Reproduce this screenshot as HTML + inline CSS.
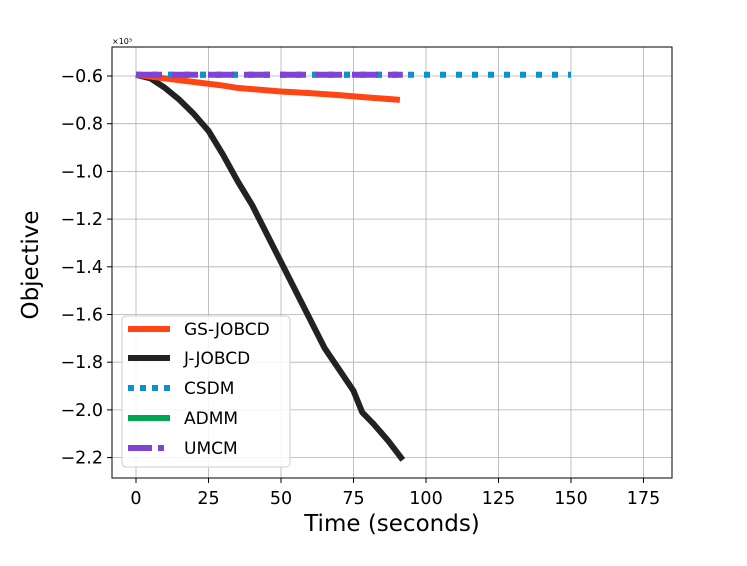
<!DOCTYPE html>
<html><head><meta charset="utf-8"><style>
body{margin:0;background:#fff}
svg text{font-family:"DejaVu Sans","Liberation Sans",sans-serif;fill:#000}
</style></head><body>
<svg id="c" width="747" height="561" viewBox="0 0 747 561"></svg>
<script>
const xTicks=[0,25,50,75,100,125,150,175];
const yTicks=[-0.6,-0.8,-1.0,-1.2,-1.4,-1.6,-1.8,-2.0,-2.2];
const yTickLabels=["−0.6","−0.8","−1.0","−1.2","−1.4","−1.6","−1.8","−2.0","−2.2"];
const gsT=[0,10,20,30,35,40,50,60,70,80,91];
const gsV=[-0.595,-0.61,-0.625,-0.64,-0.65,-0.655,-0.665,-0.672,-0.68,-0.69,-0.70];
const jT=[0,5,10,15,20,25,30,35,40,45,50,55,60,65,70,75,78,82,87,92];
const jV=[-0.595,-0.61,-0.65,-0.70,-0.76,-0.83,-0.93,-1.04,-1.14,-1.26,-1.38,-1.50,-1.62,-1.74,-1.83,-1.92,-2.01,-2.06,-2.13,-2.21];
const csT=[0,150], csV=[-0.595,-0.595];
const adT=[0,92], adV=[-0.595,-0.595];
const umT=[0,92], umV=[-0.595,-0.595];
const L=112,R=672,T=47,B=478;
const X=v=>136+v*2.9;
const Y=v=>76+(-0.6-v)/0.2*47.7;
const s=document.getElementById('c');
const NS='http://www.w3.org/2000/svg';
function el(t,a,p){const e=document.createElementNS(NS,t);for(const k in a)e.setAttribute(k,a[k]);(p||s).appendChild(e);return e;}
xTicks.forEach(v=>{
 const g=el('line',{x1:X(v),x2:X(v),y1:T,y2:B,stroke:'#b0b0b0','stroke-width':0.8});
 
 
 el('line',{x1:X(v),x2:X(v),y1:B,y2:B+5,stroke:'#000'});
 const t=el('text',{x:X(v),y:B+26,'text-anchor':'middle','font-size':17.5});t.textContent=v;
 
 
});
yTicks.forEach((v,i)=>{
 const g=el('line',{x1:L,x2:R,y1:Y(v),y2:Y(v),stroke:'#b0b0b0','stroke-width':0.8});
 
 
 el('line',{x1:L-5,x2:L,y1:Y(v),y2:Y(v),stroke:'#000'});
 const t=el('text',{x:L-9,y:Y(v)+6,'text-anchor':'end','font-size':17.5});t.textContent=yTickLabels[i];
 
 
});
function line(ts,vs,a,name){
 const p=el('polyline',Object.assign({points:ts.map((t,i)=>X(t)+','+Y(vs[i])).join(' '),fill:'none'},a));
 
 
}
line(jT,jV,{stroke:'#222','stroke-width':6,'stroke-linejoin':'round'},'j-jobcd-line');
line(gsT,gsV,{stroke:'#ff4513','stroke-width':6},'gs-jobcd-line');
line(adT,adV,{stroke:'#0a93c9','stroke-width':6,'stroke-dasharray':'6 10'},'admm-line');
line(csT,csV,{stroke:'#0a93c9','stroke-width':6,'stroke-dasharray':'6 10'},'csdm-line');
line(umT,umV,{stroke:'#7f44d6','stroke-width':6,'stroke-dasharray':'26 10'},'umcm-line');
const f=el('rect',{x:L,y:T,width:R-L,height:B-T,fill:'none',stroke:'#000','stroke-width':1});


</script>
<svg width="747" height="561" style="position:absolute;left:0;top:0">
<text x="112" y="44" font-size="8">×10³</text>
<text x="392" y="531" text-anchor="middle" font-size="23">Time (seconds)</text>
<text transform="translate(38,265) rotate(-90)" text-anchor="middle" font-size="23">Objective</text>
<g>
<rect x="122" y="316" width="168" height="151" rx="4" fill="#fff" fill-opacity="0.85" stroke="#ccc"/>
<g><line x1="128" x2="170" y1="329" y2="329" stroke="#ff4513" stroke-width="6"/><text x="184" y="335" font-size="17">GS-JOBCD</text></g>
<g><line x1="128" x2="170" y1="358" y2="358" stroke="#222" stroke-width="6"/><text x="184" y="364" font-size="17">J-JOBCD</text></g>
<g><line x1="128" x2="170" y1="388" y2="388" stroke="#0a93c9" stroke-width="6" stroke-dasharray="6 6"/><text x="184" y="394" font-size="17">CSDM</text></g>
<g><line x1="128" x2="170" y1="418" y2="418" stroke="#00a651" stroke-width="6"/><text x="184" y="424" font-size="17">ADMM</text></g>
<g><line x1="128" x2="170" y1="448" y2="448" stroke="#7f44d6" stroke-width="6" stroke-dasharray="24 6 6 6"/><text x="184" y="454" font-size="17">UMCM</text></g>
</g>
</svg>
</body></html>
